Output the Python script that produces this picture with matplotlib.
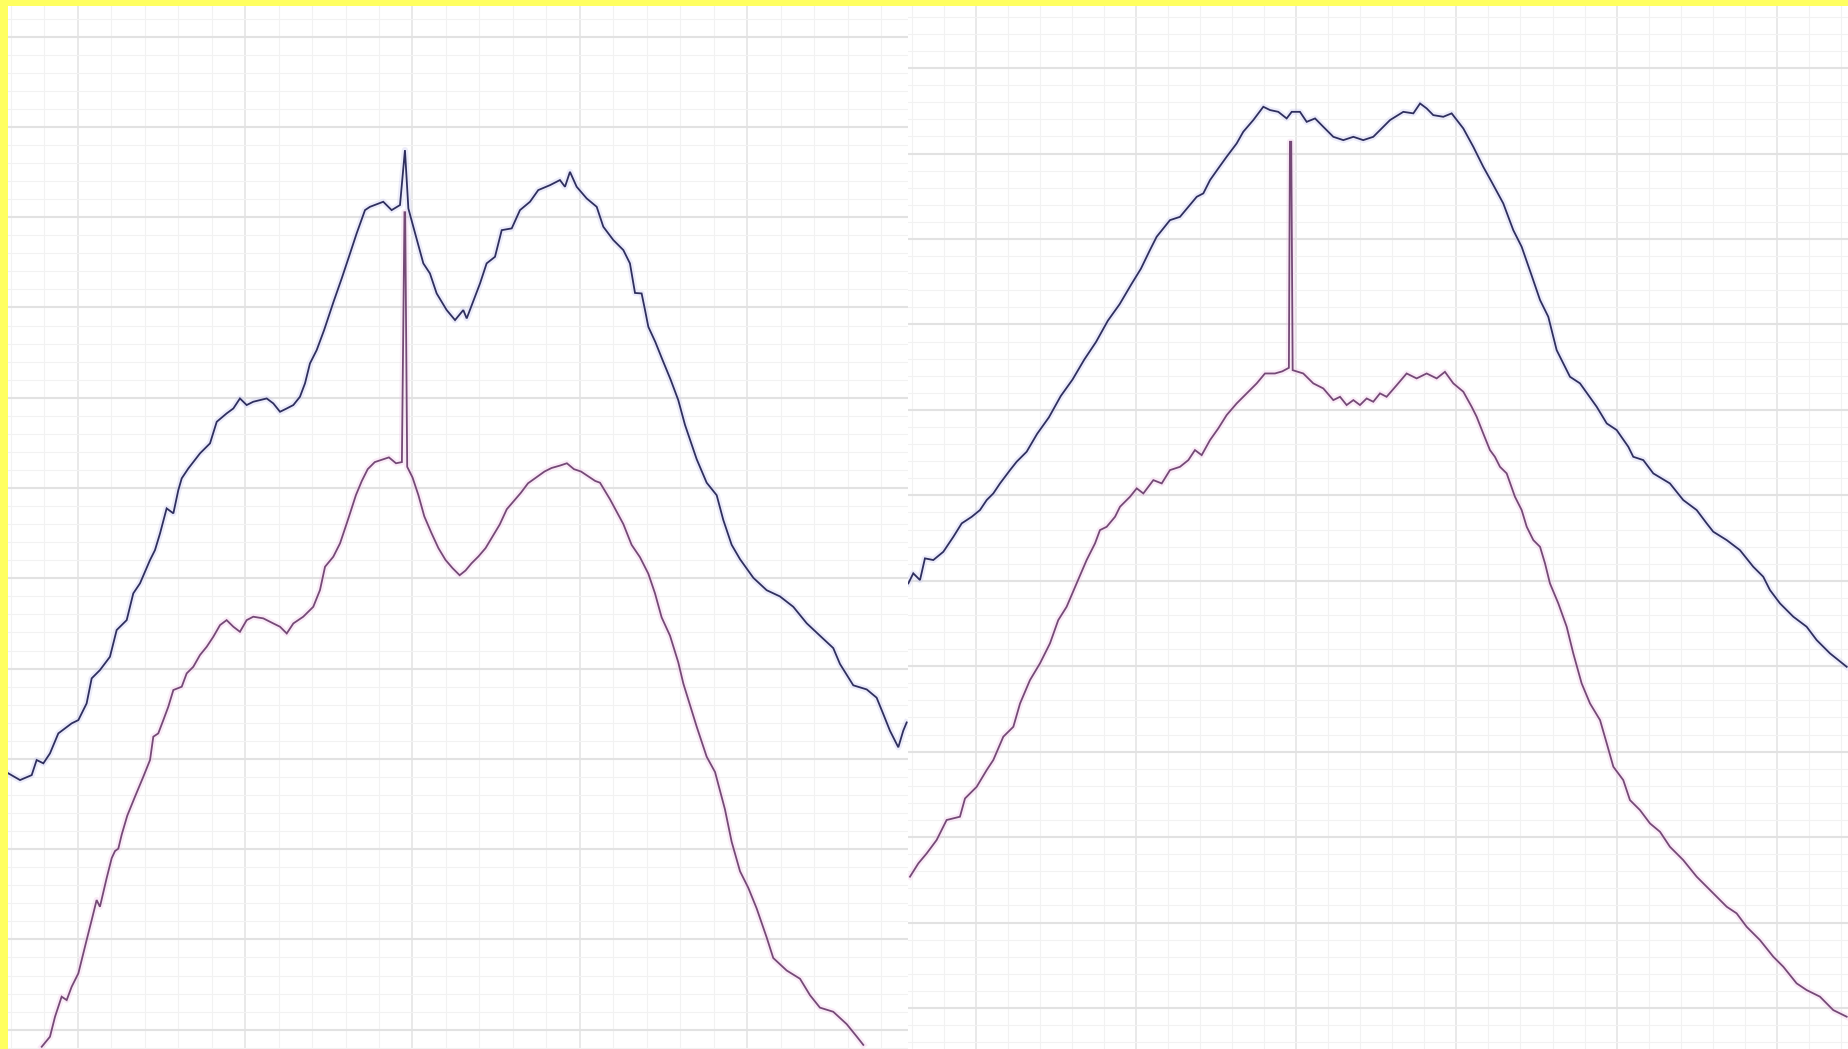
import numpy as np
import matplotlib
matplotlib.use("Agg")
import matplotlib.pyplot as plt
from matplotlib.ticker import MultipleLocator

# ---- spectra, left panel ----
left_upper_x = [7.1, 17.0, 26.9, 31.1, 36.8, 42.4, 49.5, 60.8, 66.5, 73.5, 77.8, 84.8, 93.3, 99.0,
                107.5, 113.1, 118.8, 127.3, 131.5, 135.8, 141.4, 147.1, 151.3, 154.2, 159.8, 169.7,
                178.2, 183.9, 192.3, 198.0, 203.6, 209.3, 214.9, 220.6, 226.3, 231.9, 237.6, 243.3,
                248.9, 254.5, 258.8, 263.0, 268.7, 275, 283, 290, 297.0, 302.6, 309.7, 313.9, 325.2,
                332.3, 339.4, 343.6, 346.5, 350.7, 359.2, 364.8, 370.5, 379.0, 386.1, 393.1, 396.0,
                407.3, 412.9, 420.0, 425.7, 434.2, 441.2, 449.7, 456.7, 466.7, 475.1, 479.4, 483.6,
                489.3, 497.8, 506.3, 511.9, 520.4, 528.9, 534.5, 538.8, 544.4, 547.3, 550.1, 556,
                562, 569, 575.5, 581.2, 591.1, 599.6, 608.1, 613.7, 620.8, 627.9, 639.2, 650.5,
                661.8, 673.1, 684.5, 695.7, 707.0, 712.7, 724.0, 735.4, 743.8, 749.5, 755.1, 762.2,
                766.4, 769.3]
left_upper_y = [233.9, 228.2, 232.4, 245.2, 242.4, 250.8, 267.8, 276.3, 279.1, 293.2, 314.5, 321.5,
                332.8, 355.5, 363.9, 386.6, 395.1, 414.9, 423.3, 437.5, 458.7, 454.5, 474.2, 484.2,
                492.6, 505.4, 513.9, 532.2, 539.3, 543.5, 552.0, 546.4, 549.2, 550.6, 552.0, 547.8,
                540.7, 543.5, 546.4, 553.4, 564.8, 581.7, 593.0, 610, 634, 654, 675, 692.0, 711.8,
                714.6, 718.9, 711.8, 716.1, 762.7, 713.2, 697.7, 666.6, 658.1, 641.1, 627.0, 618.5,
                627.0, 619.9, 649.6, 666.6, 672.2, 694.8, 696.3, 711.8, 718.9, 728.8, 733.0, 737.3,
                731.6, 744.3, 731.6, 721.7, 714.6, 697.7, 686.4, 677.9, 666.6, 641.5, 641.1, 627.0,
                612.8, 600, 585, 568, 550.6, 529.6, 500.5, 480.5, 469.9, 448.9, 427.8, 415.6, 399.8,
                389.3, 384.0, 375.2, 361.2, 350.7, 340.2, 326.7, 308.6, 305.1, 298.1, 284.1, 270.1,
                256.0, 270.1, 277.1]

left_lower_x = [35.4, 42.4, 46.7, 52.3, 56.6, 60.8, 66.5, 73.5, 77.8, 82.0, 84.8, 90.5, 94.8, 97.6,
                100.4, 103.3, 108, 114.5, 121.6, 127.3, 130.1, 134.3, 138.6, 142.8, 147.1, 154.2,
                158.4, 164.0, 169.7, 175.4, 181.0, 186.7, 192.3, 198.0, 203.6, 209.3, 214.9, 223.4,
                231.9, 237.6, 243.3, 248.9, 257.3, 265.8, 271.5, 275.8, 282.8, 288.5, 294.2, 297,
                302, 307, 312, 318, 324, 330, 336, 341, 343.2, 343.8, 345.5, 350, 355, 360, 366,
                372, 378, 384, 390, 395, 400, 406, 412, 418, 424, 430, 436, 442, 448, 455, 462, 468,
                475, 481, 487, 493, 499, 505, 509.1, 517.6, 528.9, 535.9, 543.0, 550.1, 555.7,
                561.4, 568.5, 575.5, 579.8, 591.1, 599.6, 606.7, 615.1, 620.8, 627.9, 634.9, 642.0,
                650.5, 656.1, 667.5, 678.8, 687.3, 695.7, 707.0, 718.4, 726.9, 732.5]
left_lower_y = [1.9, 10.4, 27.4, 44.4, 41.5, 52.8, 64.2, 92.4, 109.4, 126.4, 120.7, 145, 162, 168,
                170, 182, 198, 214, 231, 245.2, 265, 267.8, 279.1, 290.4, 304.6, 307.4, 318.7, 324.3,
                334.3, 341.3, 349.8, 359.7, 363.9, 358.3, 354, 363.9, 366.8, 365.4, 361.1, 358.3,
                352.6, 361.1, 366.8, 375.2, 389.4, 409.2, 417.7, 429, 446, 454.5, 470, 482, 492, 498,
                500, 502, 497, 498, 710, 710, 494, 485, 470, 452, 438, 425, 415, 408, 402, 406, 412,
                418, 425, 435, 445, 458, 465, 472, 480, 485, 490, 493, 495, 497, 492, 490, 486, 482,
                480.5, 466.4, 445.4, 427.8, 417.3, 403.3, 386.8, 366.2, 350.7, 328.1, 310.1, 273.6,
                248, 235, 203.4, 175.8, 150.8, 136.8, 119.3, 94.7, 77.2, 66.6, 59.6, 45.6, 35.1,
                31.6, 21.1, 10.6, 3.5]

# ---- spectra, right panel ----
right_upper_x = [770.7, 774.9, 780.6, 784.8, 791.9, 800.4, 808.9, 816.0, 824.5, 831.5, 837.2, 842.8,
                 848.5, 857.0, 862.6, 871.1, 880, 890, 900, 910, 920, 930, 940, 950, 960, 968,
                 975.7, 981.4, 992.7, 1001.2, 1015.4, 1021.0, 1026.7, 1033.7, 1040.8, 1049.3,
                 1054.9, 1063.4, 1071.9, 1077.6, 1084.6, 1091.7, 1096.0, 1103.0, 1108.7, 1115.8,
                 1122.8, 1131.3, 1139.8, 1148.3, 1156.7, 1165.2, 1172.3, 1179.4, 1190.7, 1199.2,
                 1204.9, 1210.5, 1216.1, 1224.6, 1231.7, 1241.6, 1250.1, 1258.5, 1265.6, 1275.5,
                 1284.0, 1291.1, 1299, 1306.7, 1313.7, 1320.8, 1332.1, 1340.6, 1354.8, 1363.3,
                 1371.7, 1381.6, 1385.8, 1394.3, 1402.8, 1416.9, 1428.2, 1439.6, 1448.1, 1453.7,
                 1465.1, 1476.3, 1487.6, 1496.1, 1501.8, 1510.3, 1521.6, 1532.9, 1541.4, 1552.7,
                 1566.9]
right_upper_y = [395.1, 403.6, 397.9, 416.3, 414.9, 421.9, 434.6, 446, 451.6, 457.3, 465.8, 471.4,
                 479.9, 491.2, 498.3, 506.8, 522, 536, 554, 568, 585, 600, 618, 632, 649, 662,
                 677.9, 689.2, 703.3, 706.1, 723.1, 726, 737.3, 747.2, 757.1, 768.4, 778.3, 788.2,
                 799.5, 796.7, 795.2, 789.6, 795.2, 795.2, 786.7, 789.6, 782.5, 774, 771.2, 774,
                 771.2, 774, 781.1, 788.2, 795.2, 793.9, 802.3, 798.1, 792.4, 791, 793.9, 781.1,
                 765.5, 748.6, 735.8, 717.5, 694.8, 680.7, 658, 635.5, 621.3, 593, 570.4, 564.8,
                 544.9, 530.8, 525.2, 511, 502.5, 499.7, 488.4, 479.9, 465.8, 457.3, 446, 438.9,
                 431.8, 423.3, 409.2, 400.7, 389.4, 378.1, 366.8, 358.3, 347, 335.7, 324.3]

right_lower_x = [772.1, 779.2, 786.3, 794.7, 803.2, 814.5, 818.8, 828.7, 837.2, 842.8, 851.3, 859.8,
                 865.5, 873.9, 882.4, 890.9, 897.9, 905.0, 913.5, 922.0, 929.1, 933.3, 939.0, 946.1,
                 950.3, 958.8, 964.5, 970.1, 978.6, 985.7, 992.7, 1001.2, 1008.3, 1013.9, 1019.6,
                 1026.7, 1033.7, 1040.8, 1049.3, 1057.8, 1066.3, 1073.3, 1081.8, 1088, 1093.6,
                 1094.5, 1095.6, 1096.8, 1105.8, 1114.3, 1122.8, 1131.3, 1137.0, 1142.6, 1148.3,
                 1153.9, 1159.6, 1165.2, 1170.9, 1176.5, 1185.1, 1193.5, 1202.0, 1210.5, 1219.0,
                 1226.0, 1233.1, 1241.6, 1248.7, 1252.9, 1258.5, 1264.2, 1268.4, 1272.7, 1278.4,
                 1285.4, 1291.1, 1295.4, 1301.0, 1306.7, 1310.9, 1315.1, 1322.2, 1329.3, 1334.9,
                 1342.0, 1349.1, 1357.6, 1363.3, 1368.9, 1377.3, 1383.0, 1391.5, 1400.0, 1408.5,
                 1416.9, 1428.2, 1439.6, 1453.7, 1465.1, 1473.5, 1482.0, 1493.3, 1504.6, 1513.1,
                 1524.4, 1532.9, 1544.2, 1555.5, 1566.9]
right_lower_y = [146.2, 157.5, 166, 177.3, 194.3, 197.1, 212.6, 222.5, 236.7, 245.2, 265, 273.4,
                 293.2, 313, 327.2, 344.2, 363.9, 375.2, 395.1, 414.9, 429, 440.3, 443.1, 451.6,
                 460.1, 468.6, 475.7, 471.4, 482.7, 479.9, 491.2, 494, 499.7, 508.2, 503.9, 516.7,
                 526.6, 537.9, 547.8, 556.3, 564.8, 573.2, 573.2, 575, 578, 769.8, 769.8, 576,
                 573.2, 564.8, 560.5, 550.6, 553.4, 546.4, 550.6, 546.4, 552, 549.2, 556.3, 553.4,
                 563.3, 573.2, 569, 573.2, 569, 574.6, 564.8, 557.7, 544.9, 536.5, 522.3, 508.2,
                 502.5, 494, 488.4, 468.6, 457.3, 443.1, 431.8, 426.1, 412.1, 395.1, 378.1, 358.3,
                 335.7, 310.2, 293.2, 279.1, 259.3, 239.5, 228.2, 211.2, 202.7, 191.4, 184.3, 171.6,
                 160.3, 146.2, 132.1, 120.7, 115.1, 103.7, 92.4, 78.3, 69.8, 55.7, 50, 44.4, 33,
                 27.4]

UPPER_COLOR = "#2f2f5e"
LOWER_COLOR = "#744a76"
UPPER_GLOW = "#c9c9f2"
LOWER_GLOW = "#f3c6ea"

W, H = 1848, 1049
fig = plt.figure(figsize=(W / 100, H / 100), dpi=100, facecolor="#ffff60")

top_frac = (H - 6) / H
left_edge, split = 8, 907.5
ax_l = fig.add_axes([left_edge / W, 0, (split - left_edge) / W, top_frac])
ax_r = fig.add_axes([split / W, 0, (W - split) / W, top_frac])


def style_panel(ax, xlim, xmaj, xoff, ymaj, yoff):
    ax.set_facecolor("white")
    ax.set_xlim(*xlim)
    ax.set_ylim(0, 885)
    ax.xaxis.set_major_locator(MultipleLocator(xmaj, offset=xoff))
    ax.xaxis.set_minor_locator(MultipleLocator(xmaj / 5, offset=xoff % (xmaj / 5)))
    ax.yaxis.set_major_locator(MultipleLocator(ymaj, offset=yoff))
    ax.yaxis.set_minor_locator(MultipleLocator(ymaj / 5, offset=yoff % (ymaj / 5)))
    ax.grid(which="minor", color="#f2f2f2", lw=0.8)
    ax.grid(which="major", axis="y", color="#e2e2e2", lw=1.5)
    ax.grid(which="major", axis="x", color="#e7e7e7", lw=1.3)
    ax.set_axisbelow(True)
    ax.tick_params(which="both", length=0, labelbottom=False, labelleft=False)
    for s in ax.spines.values():
        s.set_visible(False)


style_panel(ax_l, (6.8, 770.0), 142.0, 66.0, 76.6, 16.4)
style_panel(ax_r, (770.0, 1568.0), 135.8, 13.6, 72.5, 34.8)


def trace(ax, x, y, color, glow):
    ax.plot(x, y, color=glow, lw=4.5, alpha=0.35, solid_joinstyle="round")
    ax.plot(x, y, color=color, lw=1.3, solid_joinstyle="miter")


trace(ax_l, left_lower_x, left_lower_y, LOWER_COLOR, LOWER_GLOW)
trace(ax_l, left_upper_x, left_upper_y, UPPER_COLOR, UPPER_GLOW)
trace(ax_r, right_lower_x, right_lower_y, LOWER_COLOR, LOWER_GLOW)
trace(ax_r, right_upper_x, right_upper_y, UPPER_COLOR, UPPER_GLOW)

fig.savefig("out.png", dpi=100, facecolor=fig.get_facecolor())
